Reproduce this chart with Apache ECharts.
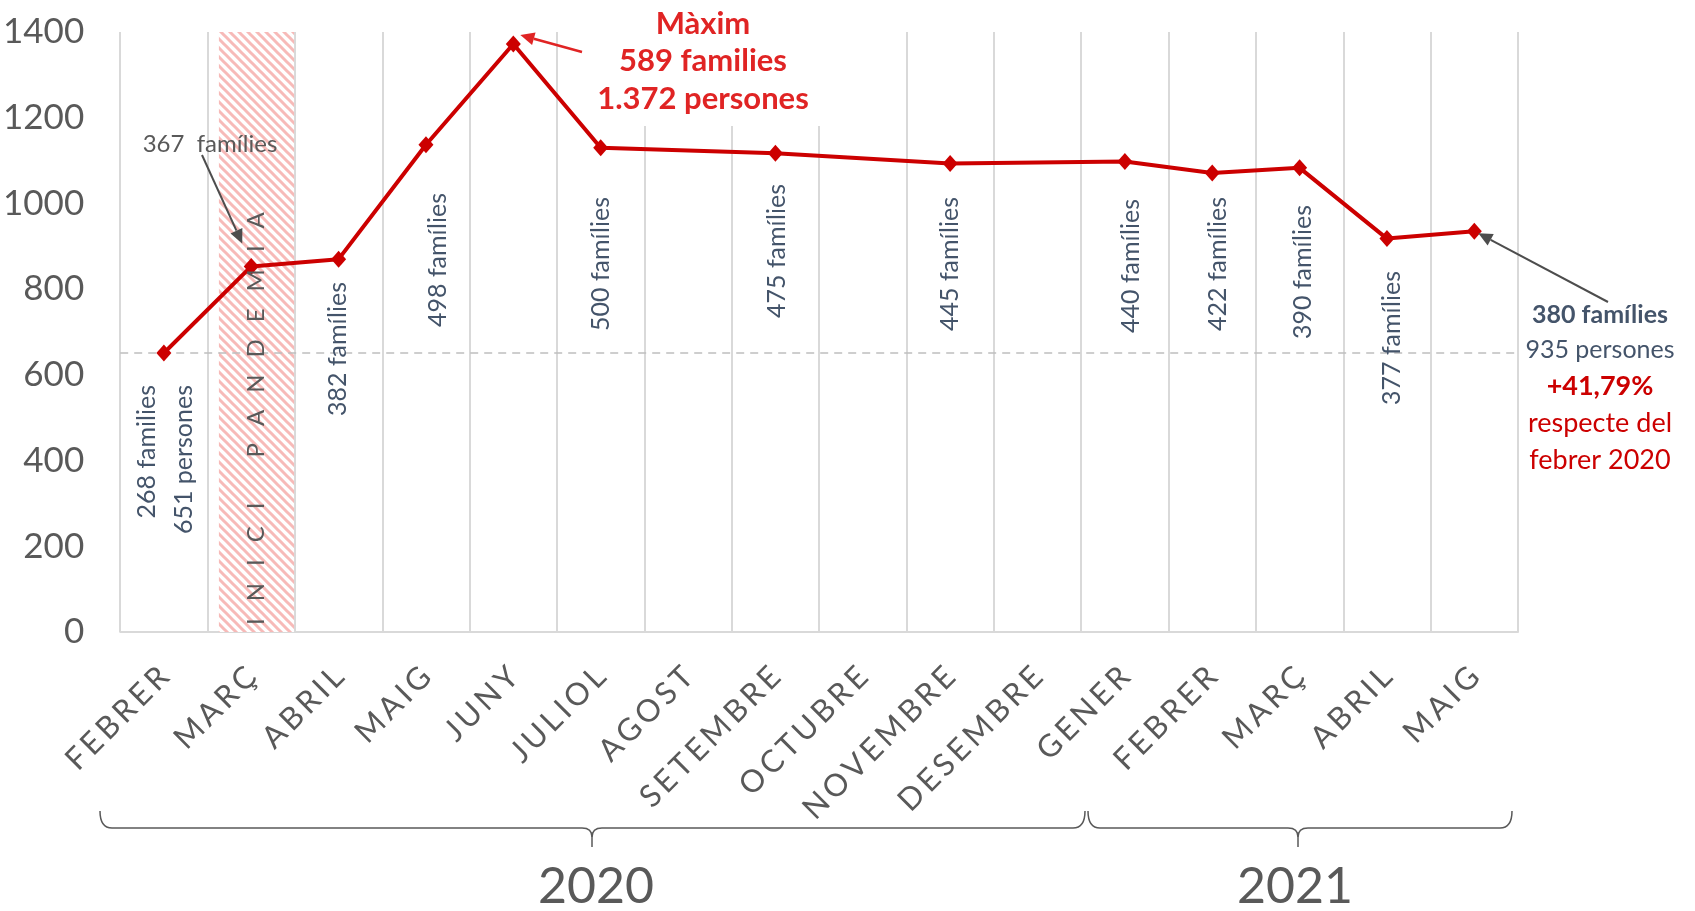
<!DOCTYPE html>
<html><head><meta charset="utf-8">
<script src="https://cdn.jsdelivr.net/npm/echarts@6/dist/echarts.min.js"></script>
<style>html,body{margin:0;padding:0;background:#fff}#c{width:1695px;height:911px}</style>
</head><body><div id="c"></div>
<script>
// ---- data ----
const months = ['FEBRER','MARÇ','ABRIL','MAIG','JUNY','JULIOL','AGOST','SETEMBRE','OCTUBRE','NOVEMBRE','DESEMBRE','GENER','FEBRER','MARÇ','ABRIL','MAIG'];
const persons = [651, 853, 870, 1137, 1372, 1130, null, 1117, null, 1093, null, 1098, 1071, 1083, 918, 935];
const families = [268, 367, 382, 498, 589, 500, null, 475, null, 445, null, 440, 422, 390, 377, 380];
const yMin = 0, yMax = 1400, yInterval = 200;
const years = ['2020', '2021'];
const baselineValue = 651;
const pandemicBand = [1.13, 1.99];   // in month-slot units from FEBRER 2020
const pandemicText = 'INICI PANDEMIA';

const FONT = 'Lato, "Open Sans", sans-serif';
const GRAY = '#595959', BLUE = '#44546A', RED = '#CC0000', TRED = '#E02424';

function hatch() {
  const s = 9, c = document.createElement('canvas');
  c.width = s; c.height = s;
  const g = c.getContext('2d');
  g.fillStyle = '#fff'; g.fillRect(0, 0, s, s);
  g.strokeStyle = '#F7BAB8'; g.lineWidth = 3;
  g.beginPath();
  g.moveTo(-s/2, -s/2); g.lineTo(s*1.5, s*1.5);
  g.moveTo(-s/2, s/2); g.lineTo(s/2, s*1.5);
  g.moveTo(s/2, -s/2); g.lineTo(s*1.5, s/2);
  g.stroke();
  return c;
}

const chart = echarts.init(document.getElementById('c'));
const option = {
  backgroundColor: '#fff',
  animation: false,
  grid: { left: 116, right: 177, top: 32, bottom: 279 },
  xAxis: [{
    type: 'category', data: months, boundaryGap: true,
    axisTick: { show: false },
    axisLine: { lineStyle: { color: '#D9D9D9', width: 2 } },
    splitLine: { show: true, interval: 0, lineStyle: { color: '#D9D9D9', width: 2 } },
    axisLabel: {
      interval: 0, rotate: 45, margin: 40, fontSize: 31, color: GRAY, fontFamily: FONT,
      formatter: v => v.split('').join('\u2009')
    }
  }, {
    type: 'value', min: 0, max: months.length, show: false
  }],
  yAxis: {
    type: 'value', min: yMin, max: yMax, interval: yInterval,
    axisLine: { show: false }, axisTick: { show: false },
    splitLine: { show: false },
    axisLabel: { fontSize: 35, color: GRAY, margin: 36, fontFamily: FONT, formatter: v => String(v) }
  },
  series: [{
    type: 'line', xAxisIndex: 1, data: [], silent: true,
    markArea: {
      silent: true,
      itemStyle: { color: { image: hatch(), repeat: 'repeat' }, opacity: 1 },
      data: [[{ xAxis: pandemicBand[0] }, { xAxis: pandemicBand[1] }]]
    },
    z: 1
  }, {
    type: 'line', data: persons, connectNulls: true,
    symbol: 'diamond', symbolSize: [15, 17],
    lineStyle: { color: RED, width: 4 },
    itemStyle: { color: RED },
    z: 5,
    markLine: {
      silent: true, symbol: 'none', label: { show: false },
      lineStyle: { color: '#BFBFBF', width: 1.5, type: [8, 6] },
      data: [{ yAxis: baselineValue }]
    }
  }]
};
chart.setOption(option);

const px = (i, v) => chart.convertToPixel({ xAxisIndex: 0, yAxisIndex: 0 }, [i, v]);
const G = [];
function txt(x, y, text, o) {
  o = o || {};
  G.push({
    type: 'text', x, y, rotation: o.rot || 0, z: 60,
    style: {
      text, fill: o.color || BLUE,
      font: (o.weight || 'normal') + ' ' + (o.size || 25) + 'px ' + FONT,
      textAlign: o.align || 'center', align: o.align || 'center',
      textVerticalAlign: o.valign || 'middle', verticalAlign: o.valign || 'middle',
      lineHeight: o.lh
    }
  });
}
function arrow(x1, y1, x2, y2, color, w) {
  const dx = x2 - x1, dy = y2 - y1, L = Math.hypot(dx, dy), ux = dx / L, uy = dy / L, hl = 14, hw = 6.5;
  const bx = x2 - ux * hl, by = y2 - uy * hl;
  G.push({ type: 'line', z: 60, shape: { x1, y1, x2: bx, y2: by }, style: { stroke: color, lineWidth: w } });
  G.push({ type: 'polygon', z: 60, shape: { points: [[x2, y2], [bx - uy * hw, by + ux * hw], [bx + uy * hw, by - ux * hw]] }, style: { fill: color } });
}
const fmt = n => String(n).replace(/\B(?=(\d{3})+(?!\d))/g, '.');

// vertical "xxx famílies" labels
const vlab = { 2: [-1, 349], 3: [12, 260], 5: [0, 264], 7: [2, 251], 9: [0, 264], 11: [6, 266], 12: [6, 264], 13: [3, 272], 14: [5, 338] };
Object.keys(vlab).forEach(k => {
  const i = +k, p = px(i, persons[i]);
  txt(p[0] + vlab[k][0], vlab[k][1], families[i] + ' famílies', { rot: Math.PI / 2 });
});
// first point
{
  const p = px(0, persons[0]);
  txt(p[0] - 17, 385, families[0] + ' families', { rot: Math.PI / 2, align: 'right' });
  txt(p[0] + 20, 385, persons[0] + ' persones', { rot: Math.PI / 2, align: 'right' });
}
// MARÇ 2020
{
  const p = px(1, persons[1]);
  txt(210, 144, families[1] + '  famílies', { color: GRAY, size: 24 });
  arrow(202, 155, p[0] - 9, p[1] - 23, '#4D4D4D', 2);
}
// Màxim
{
  const p = px(4, persons[4]);
  G.push({ type: 'rect', z: 50, shape: { x: 600, y: 0, width: 228, height: 126 }, style: { fill: '#fff' } });
  txt(703, 5, 'Màxim\n' + families[4] + ' families\n' + fmt(persons[4]) + ' persones',
      { color: TRED, weight: 'bold', size: 31, valign: 'top', lh: 37.5 });
  arrow(582, 52, p[0] + 7, p[1] - 9, TRED, 2.5);
}
// last point
{
  const i = months.length - 1, p = px(i, persons[i]);
  const pct = ((families[i] / families[0] - 1) * 100).toFixed(2).replace('.', ',');
  arrow(1608, 302, p[0] + 4, p[1] + 2, '#4D4D4D', 2);
  txt(1600, 315, families[i] + ' famílies', { weight: 'bold', size: 25 });
  txt(1600, 350, persons[i] + ' persones', { size: 25 });
  txt(1600, 386, '+' + pct + '%', { weight: 'bold', size: 27, color: RED });
  txt(1600, 423, 'respecte del', { size: 27, color: RED });
  txt(1600, 460, 'febrer ' + years[0], { size: 27, color: RED });
}
// INICI PANDEMIA letters
{
  const c = document.createElement('canvas').getContext('2d');
  c.font = '24px ' + FONT;
  const bandCenter = chart.convertToPixel({ xAxisIndex: 1, yAxisIndex: 0 }, [(pandemicBand[0] + pandemicBand[1]) / 2, 0])[0];
  let y = 625;
  for (const ch of pandemicText) {
    if (ch === ' ') { y -= 28; continue; }
    const w = c.measureText(ch).width;
    txt(bandCenter, y - w / 2, ch, { rot: Math.PI / 2, color: GRAY, size: 24 });
    y -= w + 17;
  }
}
// year braces
function brace(x0, x1, cx) {
  const yt = 811, ym = 828, tip = 847, st = { stroke: GRAY, lineWidth: 1.5, fill: null };
  const seg = (a, b, c, d) => G.push({ type: 'line', z: 60, shape: { x1: a, y1: b, x2: c, y2: d }, style: st });
  const crv = (a, b, c, d, e, f) => G.push({ type: 'bezierCurve', z: 60, shape: { x1: a, y1: b, x2: c, y2: d, cpx1: e, cpy1: f }, style: st });
  crv(x0, yt, x0 + 12, ym, x0, ym);
  seg(x0 + 12, ym, cx - 10, ym);
  crv(cx - 10, ym, cx, ym + 9, cx, ym);
  crv(cx + 10, ym, cx, ym + 9, cx, ym);
  seg(cx, ym + 9, cx, tip);
  seg(cx + 10, ym, x1 - 12, ym);
  crv(x1 - 12, ym, x1, yt, x1, ym);
}
brace(100, 1085, 592);
brace(1088, 1512, 1298);
txt(596, 887, years[0], { color: GRAY, size: 50 });
txt(1295, 887, years[1], { color: GRAY, size: 50 });

chart.setOption({ graphic: { elements: G } });
</script></body></html>
